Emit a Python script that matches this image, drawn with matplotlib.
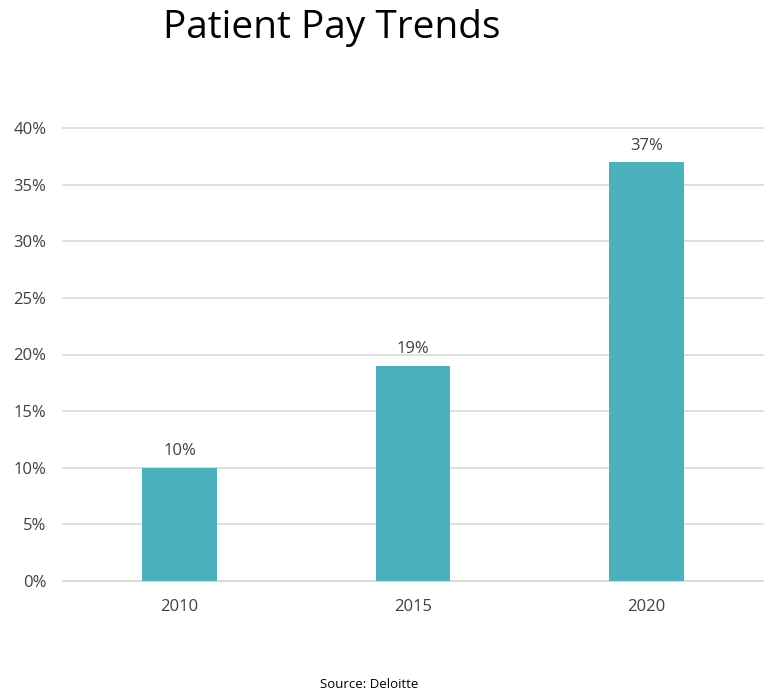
import matplotlib
matplotlib.use("Agg")
import matplotlib.pyplot as plt
from matplotlib.ticker import FuncFormatter

categories = ["2010", "2015", "2020"]
values = [0.10, 0.19, 0.37]
labels = ["10%", "19%", "37%"]
yticks = [0, 0.05, 0.10, 0.15, 0.20, 0.25, 0.30, 0.35, 0.40]

plt.rcParams['font.family'] = ['Open Sans', 'DejaVu Sans']

fig = plt.figure(figsize=(7.68, 6.97), dpi=100)
ax = fig.add_axes([63/768, 1-581/697, 700/768, (581-128)/697])

x = range(len(categories))
bars = ax.bar(x, values, width=0.32, color="#4BB1BC", zorder=3)
for xi, v, lab in zip(x, values, labels):
    ax.annotate(lab, (xi, v), xytext=(0, 6), textcoords="offset points",
                ha="center", va="bottom", fontsize=12, color="#404040")

ax.set_xlim(-0.5, 2.5)
ax.set_ylim(0, 0.40)
ax.set_yticks(yticks)
ax.yaxis.set_major_formatter(FuncFormatter(lambda v, p: f"{round(v*100)}%"))
ax.set_xticks(list(x))
ax.set_xticklabels(categories)
ax.grid(axis="y", color="#D9D9D9", linewidth=1.2, zorder=0)
for gl in ax.get_ygridlines():
    gl.set_clip_on(False)
for s in ["top", "right", "left"]:
    ax.spines[s].set_visible(False)
ax.spines["bottom"].set_color("#D9D9D9")
ax.spines["bottom"].set_linewidth(1.2)
ax.tick_params(axis="both", length=0, labelsize=12, colors="#404040")
ax.tick_params(axis="y", pad=12)
ax.tick_params(axis="x", pad=13)

fig.text(332/768, 1-28/697, "Patient Pay Trends", ha="center", va="center",
         fontsize=28, color="black")
fig.text(369/768, 1-684/697, "Source: Deloitte", ha="center", va="center",
         fontsize=9.5, color="black")

fig.savefig("out.png", dpi=100)
